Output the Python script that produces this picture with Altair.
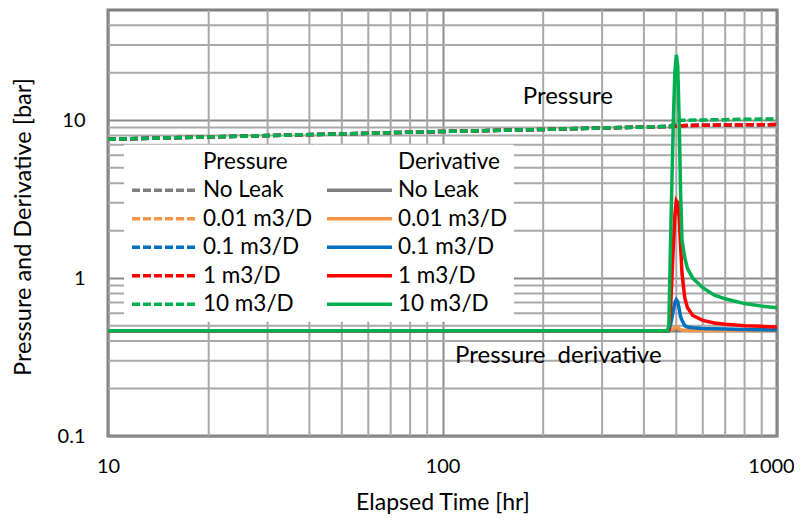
import altair as alt
import pandas as pd

FONT = "Lato"

series = ["No Leak", "0.01 m3/D", "0.1 m3/D", "1 m3/D", "10 m3/D"]
colors = ["#7f7f7f", "#f79646", "#0070c0", "#ff0000", "#00b050"]

# Pressure (dashed)
p_time = [10, 20, 30, 50, 70, 100, 150, 200, 300, 400, 480, 490, 500, 520, 600, 700, 800, 1000]
p_no_leak = [7.6, 7.85, 8.0, 8.2, 8.35, 8.5, 8.65, 8.75, 8.95, 9.05, 9.15, 9.17, 9.2, 9.25, 9.3, 9.33, 9.36, 9.4]
p_001 = [7.6, 7.85, 8.0, 8.2, 8.35, 8.5, 8.65, 8.75, 8.95, 9.05, 9.15, 9.17, 9.2, 9.25, 9.3, 9.33, 9.36, 9.4]
p_01 = [7.6, 7.85, 8.0, 8.2, 8.35, 8.5, 8.65, 8.75, 8.95, 9.05, 9.15, 9.17, 9.2, 9.25, 9.3, 9.33, 9.36, 9.4]
p_1 = [7.6, 7.85, 8.0, 8.2, 8.35, 8.5, 8.65, 8.75, 8.95, 9.05, 9.15, 9.17, 9.2, 9.25, 9.3, 9.33, 9.36, 9.4]
p_10 = [7.6, 7.85, 8.0, 8.2, 8.35, 8.5, 8.65, 8.75, 8.95, 9.05, 9.15, 9.5, 9.95, 10.0, 10.05, 10.1, 10.15, 10.22]

# Pressure derivative (solid)
d_time = [10, 100, 470, 475, 480, 485, 490, 495, 500, 505, 510, 515, 520, 530, 540, 560, 600, 650, 700, 800, 900, 1000]
d_no_leak = [0.465] * 22
d_001 = [0.465, 0.465, 0.465, 0.465, 0.468, 0.472, 0.478, 0.485, 0.49, 0.485, 0.478, 0.472, 0.47, 0.468,
         0.467, 0.466, 0.466, 0.466, 0.466, 0.466, 0.466, 0.466]
d_01 = [0.465, 0.465, 0.465, 0.465, 0.5, 0.56, 0.63, 0.7, 0.73, 0.71, 0.64, 0.57, 0.54, 0.5,
        0.49, 0.485, 0.48, 0.478, 0.476, 0.473, 0.471, 0.47]
d_1 = [0.465, 0.465, 0.465, 0.47, 0.6, 1.0, 1.6, 2.5, 3.1, 3.0, 2.4, 1.6, 1.07, 0.75,
       0.65, 0.58, 0.54, 0.52, 0.51, 0.5, 0.495, 0.49]
d_10 = [0.465, 0.465, 0.465, 0.5, 1.5, 4.0, 10.0, 20.0, 26.0, 22.0, 10.0, 3.5, 1.74, 1.35,
        1.15, 1.0, 0.87, 0.78, 0.74, 0.69, 0.665, 0.65]

# Minor gridlines
minor_x = [20, 30, 40, 50, 60, 70, 80, 90, 200, 300, 400, 500, 600, 700, 800, 900]
minor_y = [0.2, 0.3, 0.4, 0.5, 0.6, 0.7, 0.8, 0.9, 2, 3, 4, 5, 6, 7, 8, 9, 20, 30, 40]

# Annotations
ann_text = ["Pressure", "Pressure\u00a0 derivative"]
ann_x = [237, 222]
ann_y = [14.1, 0.323]

p_vals = [p_no_leak, p_001, p_01, p_1, p_10]
d_vals = [d_no_leak, d_001, d_01, d_1, d_10]

df_p = pd.DataFrame([
    {"time": t, "value": v, "series": s}
    for s, vals in zip(series, p_vals) for t, v in zip(p_time, vals)
])
df_d = pd.DataFrame([
    {"time": t, "value": v, "series": s}
    for s, vals in zip(series, d_vals) for t, v in zip(d_time, vals)
])
df_gx = pd.DataFrame({"time": minor_x})
df_gy = pd.DataFrame({"value": minor_y})
df_ann = pd.DataFrame({"time": ann_x, "value": ann_y, "text": ann_text})

x_scale = alt.Scale(type="log", domain=[10, 1000], nice=False)
y_scale = alt.Scale(type="log", domain=[0.1, 50], nice=False)

GRID_MAJOR = "#8c8c8c"
GRID_MINOR = "#a9a9a9"

x_axis = alt.Axis(values=[10, 100, 1000], format="d", labelFont=FONT, labelFontSize=20,
                  labelColor="black", labelPadding=20, labelFlush=False, labelOverlap=False,
                  labelOffset={"condition": {"test": "datum.value >= 1000", "value": -6}, "value": 0},
                  ticks=False, domain=False, grid=True, gridColor=GRID_MAJOR, gridWidth=2,
                  titleFont=FONT, titleFontSize=23, titleFontWeight="normal", titleColor="black",
                  titleY=66, titleBaseline="middle")
y_axis = alt.Axis(values=[0.1, 1, 10], format="~g", labelFont=FONT, labelFontSize=20,
                  labelColor="black", labelPadding=23, labelFlush=False, labelOverlap=False,
                  ticks=False, domain=False, grid=True, gridColor=GRID_MAJOR, gridWidth=2,
                  titleFont=FONT, titleFontSize=23.5, titleFontWeight="normal", titleColor="black",
                  titleX=-85, titleY=216.5, titleAlign="center", titleBaseline="middle")

X_TITLE = "Elapsed Time [hr]"
Y_TITLE = "Pressure and Derivative [bar]"


def xenc(field="time"):
    return alt.X(f"{field}:Q", scale=x_scale, axis=x_axis, title=X_TITLE)


def yenc(field="value"):
    return alt.Y(f"{field}:Q", scale=y_scale, axis=y_axis, title=Y_TITLE)


legend_common = dict(orient="none", fillColor="white", padding=6, symbolType="stroke",
                     symbolSize=4225, symbolStrokeWidth=3.5, labelFont=FONT, labelFontSize=22.5,
                     labelColor="black", clipHeight=22, rowPadding=5.5, labelLimit=300,
                     legendY=134.7, labelOffset=4)

grid_x = alt.Chart(df_gx).mark_rule(color=GRID_MINOR, strokeWidth=2).encode(x=xenc())
grid_y = alt.Chart(df_gy).mark_rule(color=GRID_MINOR, strokeWidth=2).encode(y=yenc())

press = alt.Chart(df_p).mark_line(strokeDash=[8, 3], strokeWidth=3.5).encode(
    x=xenc(), y=yenc(),
    color=alt.Color("series:N",
                    scale=alt.Scale(domain=["Pressure"] + series, range=["rgba(0,0,0,0)"] + colors),
                    legend=alt.Legend(legendX=16, symbolDash=[8, 3], **legend_common),
                    title=None),
)

deriv = alt.Chart(df_d).mark_line(strokeWidth=3.5).encode(
    x=xenc(), y=yenc(),
    color=alt.Color("series:N",
                    scale=alt.Scale(domain=["Derivative"] + series, range=["rgba(0,0,0,0)"] + colors),
                    legend=alt.Legend(legendX=207, symbolOffset=4, **legend_common),
                    title=None),
)

ann = alt.Chart(df_ann).mark_text(font=FONT, fontSize=24, color="black", align="center",
                                  baseline="middle").encode(x=xenc(), y=yenc(), text="text:N")

chart = alt.layer(grid_x, grid_y, press, deriv, ann).resolve_scale(color="independent").properties(
    width=669, height=426,
    autosize=alt.AutoSizeParams(type="none"),
    padding={"left": 100, "top": 2, "right": 17, "bottom": 79},
).configure_view(stroke="#7f7f7f", strokeWidth=3)

chart.save("out.html", embed_options={"renderer": "svg", "actions": False})
